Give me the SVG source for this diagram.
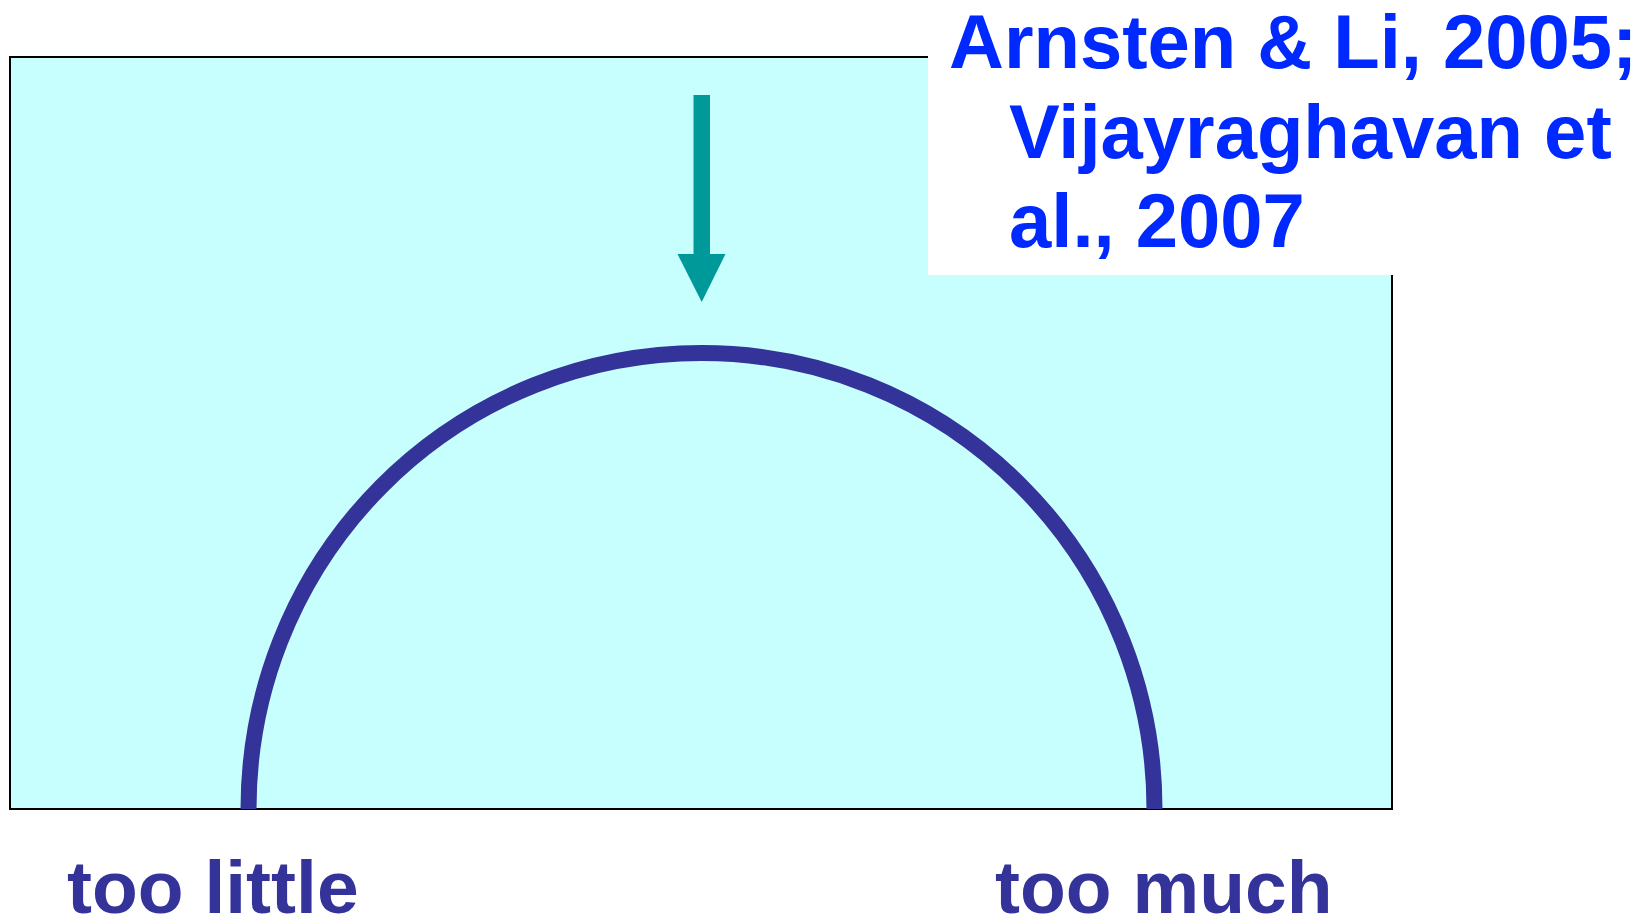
<svg xmlns="http://www.w3.org/2000/svg" width="1650" height="919" viewBox="0 0 1650 919">
<style>
.lbl{font-family:"Liberation Sans",Arial,sans-serif;font-weight:bold;font-size:75px;fill:#333399}
.cite{font-family:"Liberation Sans",Arial,sans-serif;font-weight:bold;font-size:76px;fill:#0029FF}
</style>
<rect x="0" y="0" width="1650" height="919" fill="#FFFFFF"/>
<g id="panel">
<rect x="10" y="57" width="1382" height="752" fill="#C7FFFF" stroke="#000000" stroke-width="2"/>
</g>
<g id="curve">
<path d="M248.5,809 A453,456 0 0 1 1154.5,809" fill="none" stroke="#333399" stroke-width="16"/>
</g>
<g id="connectors">
<rect x="693.5" y="95" width="16.5" height="160" fill="#009999"/>
<polygon points="677.5,254 725.5,254 701.7,302" fill="#009999"/>
</g>
<g id="citation">
<rect x="928" y="0" width="722" height="275" fill="#FFFFFF"/>
<text class="cite" x="949" y="68">Arnsten &amp; Li, 2005;</text>
<text class="cite" x="1009" y="158">Vijayraghavan et</text>
<text class="cite" x="1009" y="247">al., 2007</text>
</g>
<g id="labels">
<text class="lbl" x="67" y="913">too little</text>
<text class="lbl" x="995" y="913">too much</text>
</g>
</svg>
